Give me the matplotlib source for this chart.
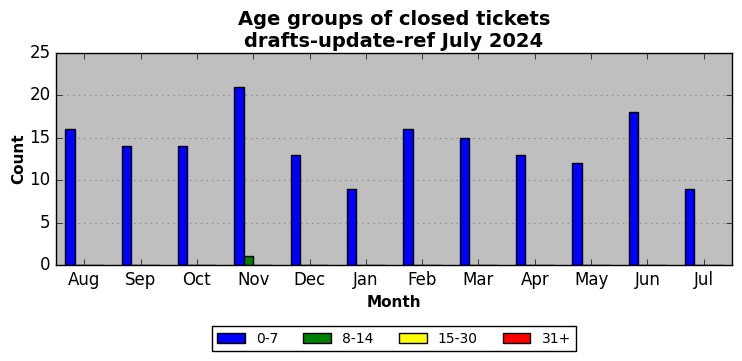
import matplotlib
matplotlib.use("Agg")
import matplotlib.pyplot as plt
import numpy as np

plt.style.use('classic')

months = ["Aug", "Sep", "Oct", "Nov", "Dec", "Jan", "Feb", "Mar", "Apr", "May", "Jun", "Jul"]
age_0_7 = [16, 14, 14, 21, 13, 9, 16, 15, 13, 12, 18, 9]
age_8_14 = [0, 0, 0, 1, 0, 0, 0, 0, 0, 0, 0, 0]
age_15_30 = [0, 0, 0, 0, 0, 0, 0, 0, 0, 0, 0, 0]
age_31p = [0, 0, 0, 0, 0, 0, 0, 0, 0, 0, 0, 0]
series = [("0-7", age_0_7, "blue"), ("8-14", age_8_14, "green"),
          ("15-30", age_15_30, "yellow"), ("31+", age_31p, "red")]

fig = plt.figure(figsize=(7.42, 3.61), dpi=100, facecolor='white')
ax = fig.add_axes([0.0755, 0.266, 0.911, 0.587])
ax.set_facecolor('#bfbfbf')

x = np.arange(len(months))
w = 1 / 6
for i, (lab, vals, col) in enumerate(series):
    ax.bar(x + (i - 1.5) * w, vals, width=w, color=col, edgecolor='black',
           linewidth=1, label=lab, align='center')

ax.set_xlim(-0.5, 11.5)
ax.set_ylim(0, 25)
ax.set_yticks([0, 5, 10, 15, 20, 25])
ax.set_xticks(x)
ax.set_xticklabels(months)
ax.yaxis.grid(True, linestyle=':', color='#888888', linewidth=0.8)
ax.set_axisbelow(True)
ax.set_xlabel("Month", fontweight='bold', fontsize=11)
ax.set_ylabel("Count", fontweight='bold', fontsize=11, labelpad=2)
ax.set_title("Age groups of closed tickets\ndrafts-update-ref July 2024",
             fontweight='bold', fontsize=14, y=0.995)
ax.legend(loc='upper center', bbox_to_anchor=(0.5, -0.255), ncol=4,
          fontsize=10, frameon=True, fancybox=False, columnspacing=1.8,
          borderpad=0.4)

fig.savefig("out.png", dpi=100, facecolor='white')
